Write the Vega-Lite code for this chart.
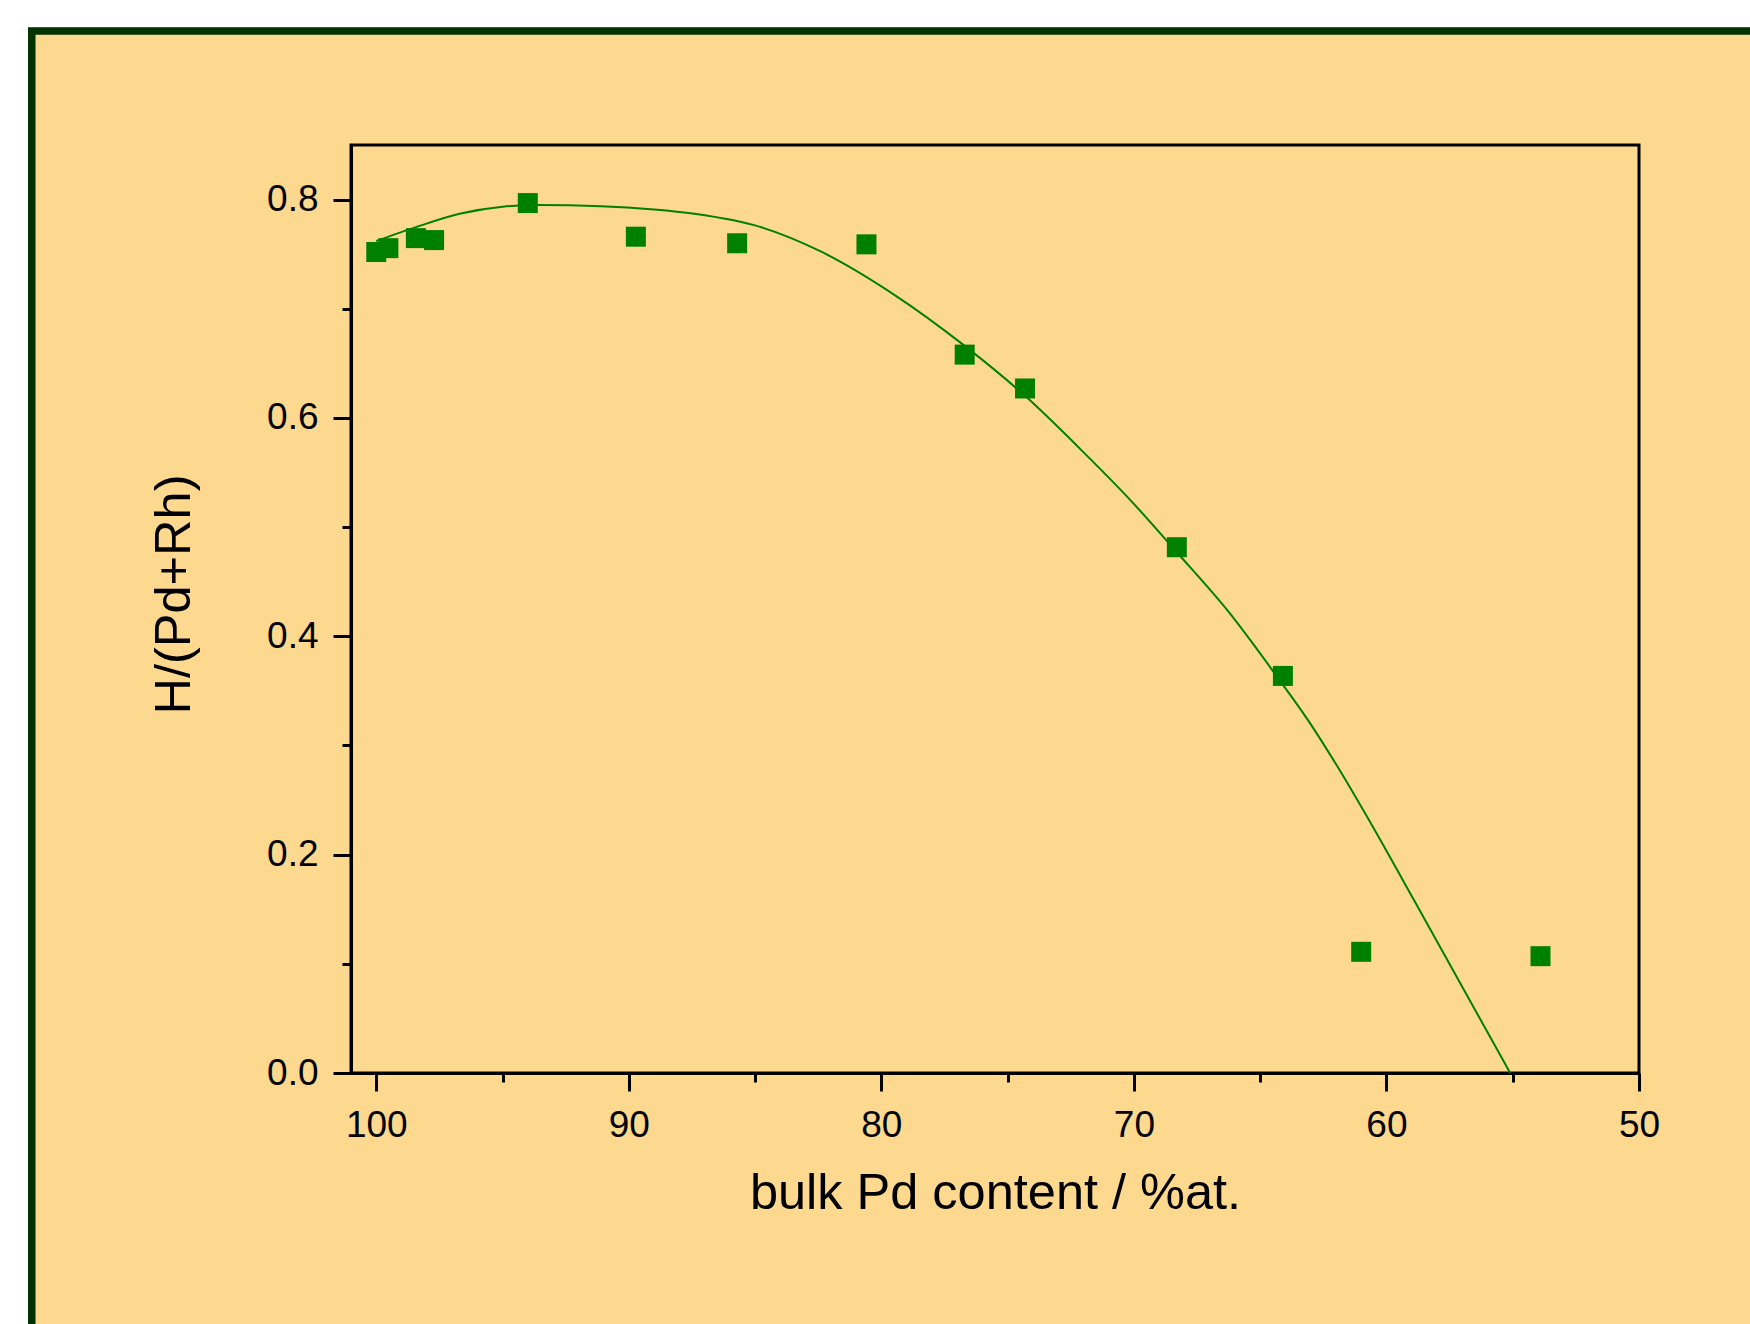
{
  "$schema": "https://vega.github.io/schema/vega-lite/v6.json",
  "autosize": {"type": "none"},
  "width": 1288,
  "height": 928,
  "padding": {"left": 351, "top": 145, "right": 111, "bottom": 251},
  "background": "#fdd88f",
  "datasets": {
    "measured": [
      {"pd": 100.0, "h": 0.752},
      {"pd": 99.52, "h": 0.7555},
      {"pd": 98.43, "h": 0.7647},
      {"pd": 97.71, "h": 0.7629},
      {"pd": 94.0, "h": 0.7968},
      {"pd": 89.72, "h": 0.766},
      {"pd": 85.71, "h": 0.76},
      {"pd": 80.59, "h": 0.759},
      {"pd": 76.7, "h": 0.658},
      {"pd": 74.31, "h": 0.627},
      {"pd": 68.3, "h": 0.4816},
      {"pd": 64.1, "h": 0.3637},
      {"pd": 61.0, "h": 0.111},
      {"pd": 53.9, "h": 0.107}
    ],
    "fit": [
      {"pd": 100.0, "h": 0.762},
      {"pd": 98.4, "h": 0.775},
      {"pd": 96.7, "h": 0.787},
      {"pd": 95.0, "h": 0.7935},
      {"pd": 93.6, "h": 0.795},
      {"pd": 91.1, "h": 0.794},
      {"pd": 89.0, "h": 0.791},
      {"pd": 87.4, "h": 0.787},
      {"pd": 84.8, "h": 0.775},
      {"pd": 82.4, "h": 0.7525},
      {"pd": 79.5, "h": 0.713},
      {"pd": 76.7, "h": 0.666},
      {"pd": 74.3, "h": 0.62},
      {"pd": 72.1, "h": 0.571},
      {"pd": 70.15, "h": 0.525},
      {"pd": 68.3, "h": 0.477},
      {"pd": 66.2, "h": 0.421},
      {"pd": 64.3, "h": 0.362},
      {"pd": 63.1, "h": 0.323},
      {"pd": 62.0, "h": 0.283},
      {"pd": 60.5, "h": 0.224},
      {"pd": 58.9, "h": 0.158},
      {"pd": 57.0, "h": 0.079},
      {"pd": 55.1, "h": 0.0}
    ],
    "frame": [{"kind": "frame"}]
  },
  "layer": [
    {
      "description": "white margin outside the page frame",
      "data": {"name": "frame"},
      "mark": {"type": "rect", "fill": null, "stroke": "#ffffff", "strokeWidth": 56},
      "encoding": {
        "x": {"datum": 114.9, "type": "quantitative", "title": "bulk Pd content / %at.",
              "scale": {"domain": [101, 50], "nice": false, "zero": false},
              "axis": {"values": [100, 95, 90, 85, 80, 75, 70, 65, 60, 55, 50]}},
        "x2": {"datum": 30},
        "y": {"datum": 0.9837, "type": "quantitative", "title": "H/(Pd+Rh)",
              "scale": {"domain": [0, 0.85], "nice": false, "zero": false},
              "axis": {"values": [0, 0.1, 0.2, 0.3, 0.4, 0.5, 0.6, 0.7, 0.8]}},
        "y2": {"datum": -0.6}
      }
    },
    {
      "description": "dark green page frame",
      "data": {"name": "frame"},
      "mark": {"type": "rect", "fill": null, "stroke": "#013301", "strokeWidth": 7.5},
      "encoding": {
        "x": {"datum": 113.64, "type": "quantitative", "title": "bulk Pd content / %at.",
              "scale": {"domain": [101, 50], "nice": false, "zero": false},
              "axis": {"values": [100, 95, 90, 85, 80, 75, 70, 65, 60, 55, 50]}},
        "x2": {"datum": 30},
        "y": {"datum": 0.9544, "type": "quantitative", "title": "H/(Pd+Rh)",
              "scale": {"domain": [0, 0.85], "nice": false, "zero": false},
              "axis": {"values": [0, 0.1, 0.2, 0.3, 0.4, 0.5, 0.6, 0.7, 0.8]}},
        "y2": {"datum": -0.6}
      }
    },
    {
      "data": {"name": "fit"},
      "mark": {"type": "line", "color": "#008000", "strokeWidth": 2, "interpolate": "monotone", "clip": true},
      "encoding": {
        "x": {"field": "pd", "type": "quantitative", "title": "bulk Pd content / %at.",
              "scale": {"domain": [101, 50], "nice": false, "zero": false},
              "axis": {"values": [100, 95, 90, 85, 80, 75, 70, 65, 60, 55, 50]}},
        "y": {"field": "h", "type": "quantitative", "title": "H/(Pd+Rh)",
              "scale": {"domain": [0, 0.85], "nice": false, "zero": false},
              "axis": {"values": [0, 0.1, 0.2, 0.3, 0.4, 0.5, 0.6, 0.7, 0.8]}}
      }
    },
    {
      "data": {"name": "measured"},
      "mark": {"type": "point", "shape": "square", "filled": true, "size": 400, "color": "#008000", "opacity": 1},
      "encoding": {
        "x": {"field": "pd", "type": "quantitative", "title": "bulk Pd content / %at.",
              "scale": {"domain": [101, 50], "nice": false, "zero": false},
              "axis": {"values": [100, 95, 90, 85, 80, 75, 70, 65, 60, 55, 50]}},
        "y": {"field": "h", "type": "quantitative", "title": "H/(Pd+Rh)",
              "scale": {"domain": [0, 0.85], "nice": false, "zero": false},
              "axis": {"values": [0, 0.1, 0.2, 0.3, 0.4, 0.5, 0.6, 0.7, 0.8]}}
      }
    }
  ],
  "config": {
    "font": "Liberation Sans",
    "view": {"stroke": "#000000", "strokeWidth": 3, "fill": null},
    "axis": {
      "zindex": 1,
      "grid": false,
      "domainColor": "#000000",
      "domainWidth": 3,
      "tickColor": "#000000",
      "tickWidth": 3,
      "labelFont": "Liberation Sans",
      "labelFontSize": 37,
      "labelColor": "#000000",
      "labelOverlap": false,
      "labelFlush": false,
      "titleFont": "Liberation Sans",
      "titleFontSize": 50.5,
      "titleFontWeight": "normal",
      "titleColor": "#000000"
    },
    "axisX": {
      "labelExpr": "datum.value % 10 == 0 ? format(datum.value, 'd') : ''",
      "tickSize": {"condition": {"test": "datum.value % 10 != 0", "value": 9}, "value": 18},
      "labelPadding": 16,
      "titlePadding": 25
    },
    "axisY": {
      "labelExpr": "round(datum.value * 10) % 2 == 0 ? format(datum.value, '.1f') : ''",
      "tickSize": {"condition": {"test": "round(datum.value * 10) % 2 == 1", "value": 9}, "value": 18},
      "labelPadding": 15,
      "titlePadding": 66,
      "titleY": 449
    }
  }
}
